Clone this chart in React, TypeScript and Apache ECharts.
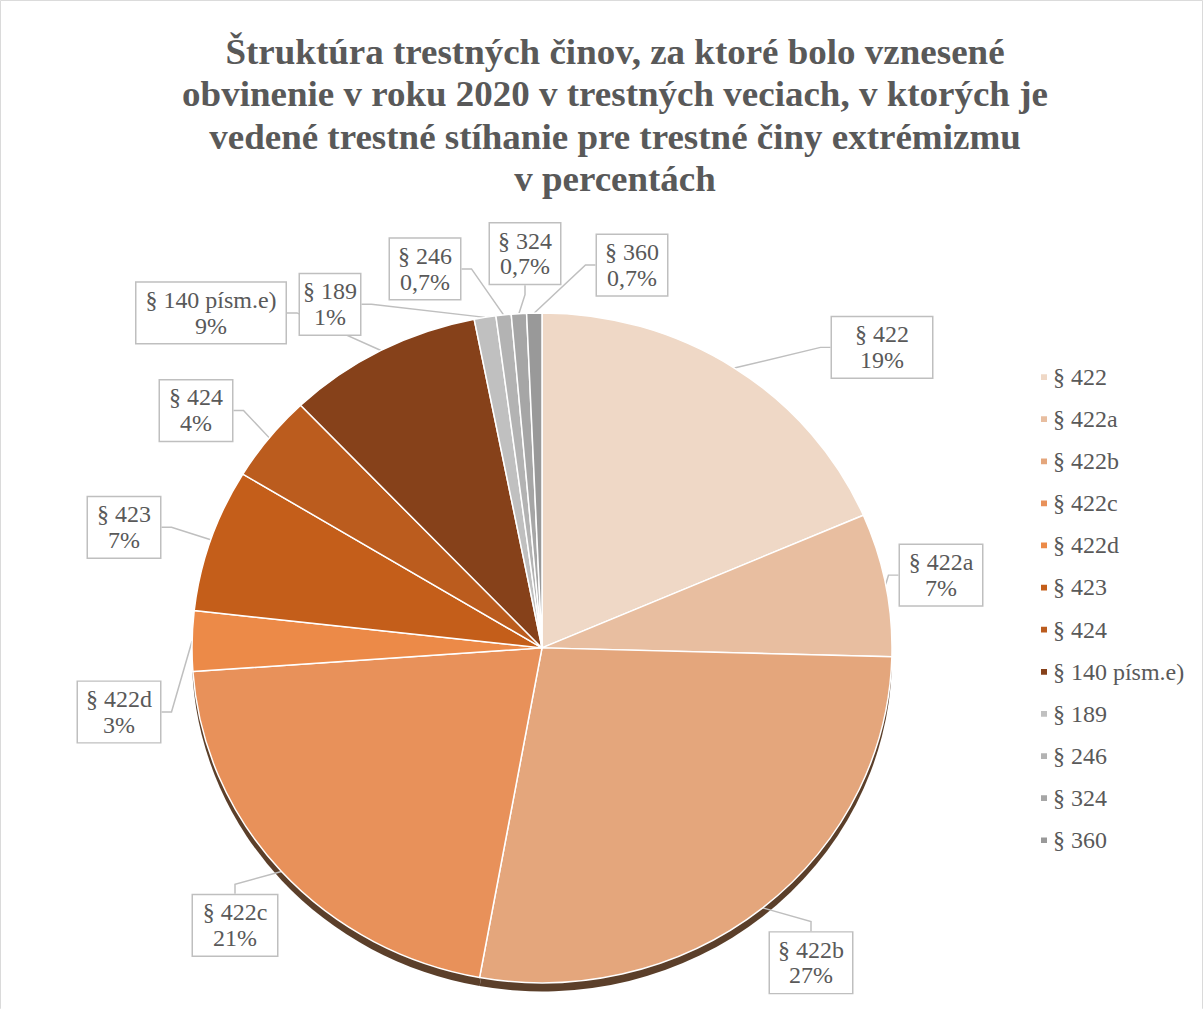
import React, { useEffect, useRef } from "react";
import * as echarts from "echarts";

const titleText =
  "Štruktúra trestných činov, za ktoré bolo vznesené\nobvinenie v roku 2020 v trestných veciach, v ktorých je\nvedené trestné stíhanie pre trestné činy extrémizmu\nv percentách";

const categories = [
  "§ 422",
  "§ 422a",
  "§ 422b",
  "§ 422c",
  "§ 422d",
  "§ 423",
  "§ 424",
  "§ 140 písm.e)",
  "§ 189",
  "§ 246",
  "§ 324",
  "§ 360",
];
const values = [18.5, 6.9, 27.4, 21.0, 2.9, 6.9, 4.2, 9.0, 1.0, 0.7, 0.7, 0.7];

const colors = [
  "#efd8c6",
  "#e8bea0",
  "#e4a67c",
  "#e8915a",
  "#ec8a48",
  "#c45e1a",
  "#bb5c1e",
  "#86411a",
  "#c0c0c0",
  "#b3b3b3",
  "#a6a6a6",
  "#999999",
];

// the reference is vertically compressed: draw unscaled, then squeeze
const SY = 0.957;

// label box centres and widths (layout only, unscaled coordinates)
const labelCentres = [
  [882, 363],
  [941, 601],
  [811, 1006],
  [235, 967],
  [119, 744],
  [124, 551],
  [196, 429],
  [211, 327],
  [330, 318],
  [425, 281],
  [525, 265],
  [632, 277],
];
const boxWidths = [100, 82, 82, 84, 82, 72, 72, 149, 60, 70, 70, 70];

const fmt = (v: number) =>
  v < 1 ? v.toFixed(1).replace(".", ",") + "%" : Math.round(v) + "%";

export default function App() {
  const ref = useRef<HTMLDivElement>(null);
  useEffect(() => {
    if (!ref.current) return;
    const chart = echarts.init(ref.current, undefined, { renderer: "svg" });
    const font = "Liberation Serif";
    const data = categories.map((n, i) => ({
      name: n,
      value: values[i],
      itemStyle: { color: colors[i] },
      label: { width: boxWidths[i] - 4 },
    }));
    chart.setOption({
      animation: false,
      backgroundColor: "#ffffff",
      title: {
        text: titleText,
        left: 610,
        top: 27,
        textAlign: "center",
        textStyle: {
          fontFamily: font,
          fontSize: 37,
          fontWeight: "bold",
          color: "#595959",
          lineHeight: 44.5,
        },
      },
      legend: {
        orient: "vertical",
        left: 1034,
        top: 377,
        itemWidth: 8,
        itemHeight: 8,
        itemGap: 20,
        icon: "rect",
        data: categories,
        textStyle: {
          fontFamily: font,
          fontSize: 24,
          color: "#595959",
          lineHeight: 24,
        },
      },
      graphic: [
        {
          type: "rect",
          shape: { x: 0.5, y: 0.5, width: 1202, height: 1080 },
          style: { fill: "none", stroke: "#d9d9d9", lineWidth: 1 },
          silent: true,
        },
      ],
      series: [
        {
          type: "pie",
          name: "main",
          z: 3,
          center: [542, 677],
          radius: [0, 350],
          startAngle: 90,
          clockwise: true,
          data,
          itemStyle: { borderColor: "#ffffff", borderWidth: 1.5 },
          emphasis: { disabled: true },
          label: {
            show: true,
            formatter: (p: any) => p.name + "\n" + fmt(p.value),
            fontFamily: font,
            fontSize: 24,
            lineHeight: 27,
            color: "#595959",
            backgroundColor: "#ffffff",
            borderColor: "#bfbfbf",
            borderWidth: 1.5,
            padding: [5, 2, 4, 2],
            align: "center",
          },
          labelLine: {
            show: true,
            length: 20,
            length2: 10,
            lineStyle: { color: "#bfbfbf", width: 1.5 },
          },
          labelLayout: (p: any) => {
            const c = labelCentres[p.dataIndex];
            return {
              x: c[0],
              y: c[1],
              align: "center",
              verticalAlign: "middle",
            };
          },
        },
        {
          type: "pie",
          name: "shadow",
          z: 1,
          silent: true,
          center: [542, 686],
          radius: [0, 350],
          startAngle: 90,
          data: categories.map((n, i) => ({
            name: n,
            value: values[i],
            itemStyle: { color: "#5b3f2a" },
          })),
          label: { show: false },
          labelLine: { show: false },
          emphasis: { disabled: true },
          legendHoverLink: false,
        },
      ],
    });
    return () => chart.dispose();
  }, []);
  return (
    <div
      ref={ref}
      style={{
        position: "fixed",
        left: 0,
        top: 0,
        width: 1204,
        height: Math.round(1009 / SY),
        transform: `scaleY(${SY})`,
        transformOrigin: "0 0",
      }}
    />
  );
}
